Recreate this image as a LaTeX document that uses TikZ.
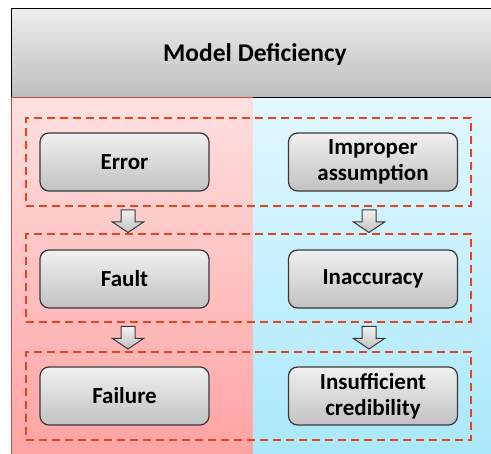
\documentclass[tikz,border=0pt]{standalone}
\usepackage{fontspec}
\setmainfont{Carlito}
\usetikzlibrary{shapes.geometric}
\definecolor{hdtop}{HTML}{EDEDED}
\definecolor{hdbot}{HTML}{BDBDBD}
\definecolor{pinktop}{HTML}{FEE0E0}
\definecolor{pinkbot}{HTML}{FFA2A2}
\definecolor{pinkline}{HTML}{C84848}
\definecolor{cyantop}{HTML}{E2F8FF}
\definecolor{cyanbot}{HTML}{A8E8FB}
\definecolor{cyanline}{HTML}{4AA8C0}
\definecolor{boxtop}{HTML}{F0F0F0}
\definecolor{boxbot}{HTML}{C2C2C2}
\definecolor{boxline}{HTML}{383838}
\definecolor{dashred}{HTML}{E8421E}
\tikzset{
  stagebox/.style={rectangle, rounded corners=9pt, draw=boxline, line width=1.2pt,
    top color=boxtop, bottom color=boxbot, minimum width=169pt, minimum height=58pt,
    align=center, font=\fontsize{23}{26.5}\selectfont\bfseries, inner sep=0pt},
  groupbox/.style={rectangle, draw=dashred, line width=2pt, dash pattern=on 8pt off 5pt,
    minimum width=445pt, minimum height=88pt, inner sep=0pt},
  downarrow/.pic={
    \shade[top color=boxtop, bottom color=boxbot, draw=boxline, line width=1pt]
      (-7,-11) -- (7,-11) -- (7,1) -- (15.5,1) -- (0,11.5) -- (-15.5,1) -- (-7,1) -- cycle;
  }
}
\begin{document}
\begin{tikzpicture}[x=1pt,y=-1pt]
\useasboundingbox (0,0) rectangle (491,454);
\clip (0,0) rectangle (491,454);
% two columns
\shade[top color=pinktop, bottom color=pinkbot] (11,97) rectangle (253,460);
\draw[pinkline, line width=0.8pt] (11,460) -- (11,97) -- (253,97) -- (253,460);
\shade[top color=cyantop, bottom color=cyanbot] (253,97) rectangle (500,460);
\draw[cyanline, line width=0.8pt] (253.8,97) -- (500,97);
% title bar
\node[rectangle, draw=black, line width=1.2pt, top color=hdtop, bottom color=hdbot,
  minimum width=488pt, minimum height=89pt, inner sep=0pt, anchor=north west] (title) at (11,8) {};
\node[font=\fontsize{25.5}{30}\selectfont\bfseries] (titletext) at (255,54.5) {Model Deficiency};
\draw[pinkline, line width=0.8pt] (11,97) -- (253,97);
% dashed groups
\node[groupbox] (g1) at (248.5,162) {};
\node[groupbox] (g2) at (248.5,278.5) {};
\node[groupbox] (g3) at (248.5,396) {};
% stages
\node[stagebox] (error) at (124.5,162) {Error};
\node[stagebox] (fault) at (124.5,279) {Fault};
\node[stagebox] (failure) at (124.5,396) {Failure};
\node[stagebox] (improper) at (373,162) {Improper\\assumption};
\node[stagebox] (inacc) at (373,279) {Inaccuracy};
\node[stagebox] (insuff) at (373,396) {Insufficient\\credibility};
% block arrows between the groups
\pic (a1) at (128,221) {downarrow};
\pic (a2) at (128,337.5) {downarrow};
\pic (a3) at (369,221) {downarrow};
\pic (a4) at (369,337.5) {downarrow};
\end{tikzpicture}
\end{document}
